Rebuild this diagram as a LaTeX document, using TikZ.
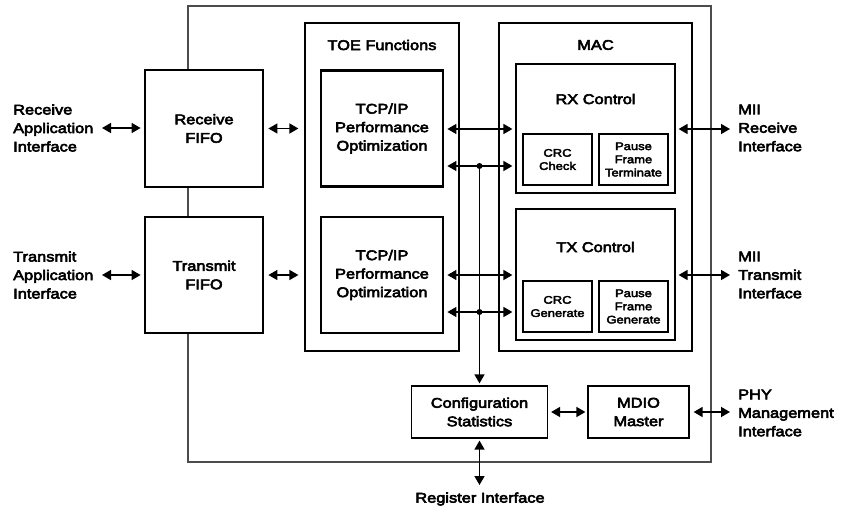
\documentclass[tikz,border=0pt]{standalone}
\usepackage{fontspec}
\setmainfont[FakeStretch=1.17,FakeBold=4]{Liberation Sans}
\newfontfamily\bigfont[FakeStretch=1.17,FakeBold=4]{Liberation Sans}
\newfontfamily\smallfont[FakeStretch=1.18,FakeBold=3.5]{Liberation Sans}
\usetikzlibrary{arrows.meta}
\begin{document}
\begin{tikzpicture}[x=1pt,y=-1pt,
  bigtext/.style={font=\bigfont\fontsize{14}{18.5}\selectfont},
  thickbox/.style={draw, line width=2.8pt, fill=white, align=center, inner sep=0pt, bigtext},
  thinbox/.style={draw, line width=1.2pt, fill=white, inner sep=0pt},
  smallbox/.style={draw, line width=2.6pt, fill=white, align=center, inner sep=0pt,
     font=\smallfont\fontsize{11}{13.2}\selectfont},
  outerbox/.style={draw=black!70, line width=1.2pt, inner sep=0pt},
  lbl/.style={align=left, anchor=west, inner sep=0pt, bigtext},
  ttl/.style={inner sep=0pt, bigtext},
  conn/.style={line width=1.5pt, {Triangle[length=9pt,width=10pt]}-{Triangle[length=9pt,width=10pt]}},
  conn1/.style={line width=1.5pt, -{Triangle[length=9pt,width=10pt]}},
  dot/.style={circle, fill=black, inner sep=0pt, minimum size=6pt}
]
\useasboundingbox (0,0) rectangle (849,511);
% outer frame
\node[outerbox, minimum width=523pt, minimum height=456pt] (outer) at (449.5,234) {};
% FIFOs
\node[thickbox, minimum width=118pt, minimum height=117pt] (rfifo) at (204,128.5) {Receive\\FIFO};
\node[thickbox, minimum width=118pt, minimum height=116pt] (tfifo) at (204,275) {Transmit\\FIFO};
% TOE functions
\node[thinbox, minimum width=154pt, minimum height=328pt] (toe) at (382,187) {};
\node[ttl] (toet) at (382,45) {TOE Functions};
\node[thickbox, minimum width=122pt, minimum height=116pt] (tcp1) at (382,128.5) {TCP/IP\\Performance\\Optimization};
\node[thickbox, minimum width=122pt, minimum height=116pt] (tcp2) at (382,275) {TCP/IP\\Performance\\Optimization};
% MAC
\node[thinbox, minimum width=193pt, minimum height=328pt] (mac) at (595.5,187) {};
\node[ttl] (mact) at (595.5,45) {MAC};
\node[thinbox, minimum width=159pt, minimum height=129pt] (rx) at (595.5,128.5) {};
\node[ttl] (rxt) at (595.5,99) {RX Control};
\node[smallbox, minimum width=69pt, minimum height=51pt] (crcc) at (557.5,159.5) {CRC\\Check};
\node[smallbox, minimum width=69pt, minimum height=51pt] (pft) at (633.5,159.5) {Pause\\Frame\\Terminate};
\node[thinbox, minimum width=159pt, minimum height=131pt] (tx) at (595.5,274.5) {};
\node[ttl] (txt) at (595.5,247) {TX Control};
\node[smallbox, minimum width=69pt, minimum height=51pt] (crcg) at (557.5,306.5) {CRC\\Generate};
\node[smallbox, minimum width=69pt, minimum height=51pt] (pfg) at (633.5,306.5) {Pause\\Frame\\Generate};
% Config / MDIO
\node[thinbox, align=center, bigtext, minimum width=136pt, minimum height=52pt] (cfg) at (479.5,412) {Configuration\\Statistics};
\node[thinbox, align=center, bigtext, minimum width=101pt, minimum height=52pt] (mdio) at (638.5,412) {MDIO\\Master};
% external labels
\node[lbl] (rai) at (13,128) {Receive\\Application\\Interface};
\node[lbl] (tai) at (13,275) {Transmit\\Application\\Interface};
\node[lbl] (mrx) at (738,128) {MII\\Receive\\Interface};
\node[lbl] (mtx) at (738,275) {MII\\Transmit\\Interface};
\node[lbl] (phy) at (738,413) {PHY\\Management\\Interface};
\node[ttl] (reg) at (480,499) {Register Interface};
% helper coordinates
\coordinate (a1) at (102,128);
\coordinate (a2) at (102,275);
\coordinate (j1) at (479.5,166);
\coordinate (j2) at (479.5,312);
\coordinate (r1) at (730,129);
\coordinate (r2) at (730,275);
\coordinate (r3) at (730,412);
\coordinate (rg) at (479.5,485);
% connectors
\draw[conn, shorten >=3pt] (a1) -- (a1 -| rfifo.west);
\draw[conn, shorten >=3pt] (a2) -- (a2 -| tfifo.west);
\draw[conn, shorten <=4pt, shorten >=6pt] (rfifo.east) -- (rfifo.east -| toe.west);
\draw[conn, shorten <=4pt, shorten >=6pt] (tfifo.east) -- (tfifo.east -| toe.west);
\draw[conn, shorten <=3pt, shorten >=3pt] (tcp1.east |- 0,129) -- (rx.west |- 0,129);
\draw[conn, shorten <=3pt, shorten >=3pt] (tcp1.east |- j1) -- (rx.west |- j1);
\draw[conn, shorten <=3pt, shorten >=3pt] (tcp2.east |- 0,275) -- (tx.west |- 0,275);
\draw[conn, shorten <=3pt, shorten >=3pt] (tcp2.east |- j2) -- (tx.west |- j2);
\draw[conn1, shorten >=2pt] (j1) -- (cfg.north);
\node[dot] at (j1) {};
\node[dot] at (j2) {};
\draw[conn, shorten <=3pt] (rx.east |- r1) -- (r1);
\draw[conn, shorten <=3pt] (tx.east |- r2) -- (r2);
\draw[conn, shorten <=3pt, shorten >=2pt] (cfg.east) -- (mdio.west);
\draw[conn, shorten <=4pt] (mdio.east |- r3) -- (r3);
\draw[conn, shorten <=2pt] (cfg.south) -- (rg);
\end{tikzpicture}
\end{document}
